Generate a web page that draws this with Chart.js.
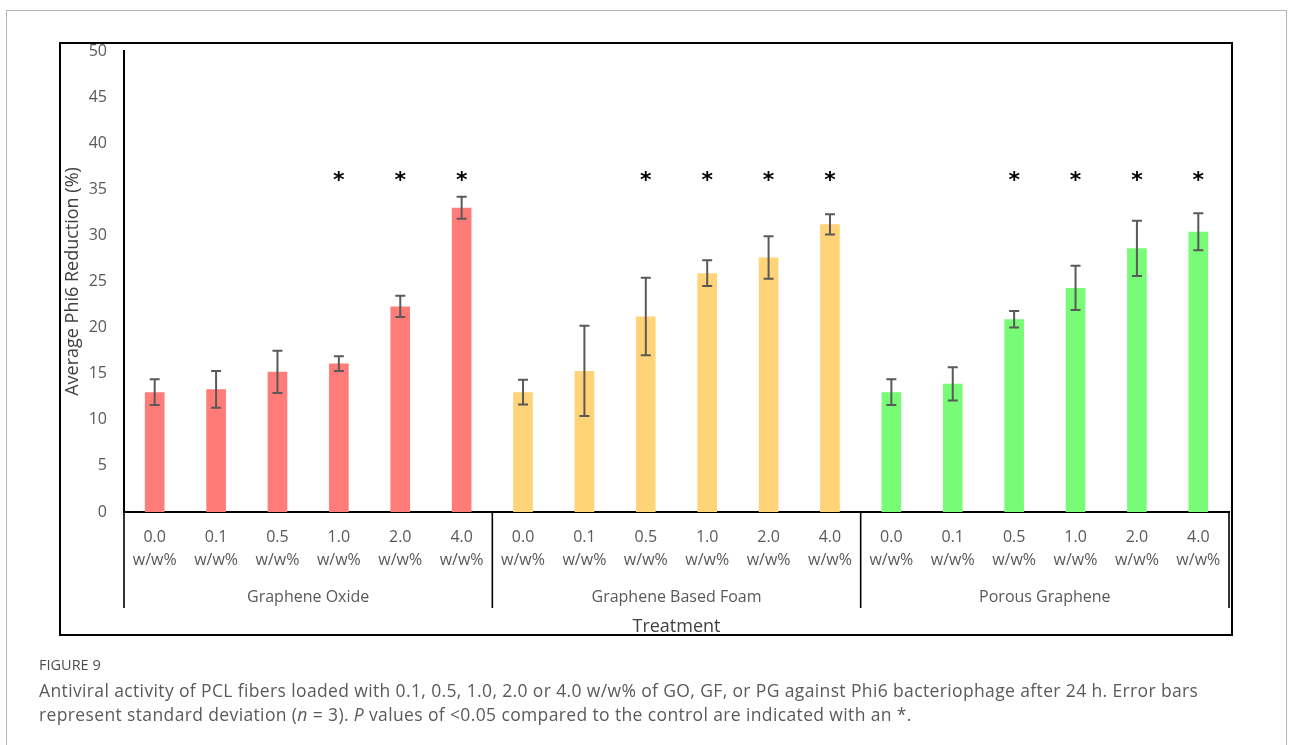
<!DOCTYPE html>
<html>
<head>
<meta charset="utf-8">
<script src="https://cdn.jsdelivr.net/npm/chart.js@4.4.1/dist/chart.umd.min.js"></script>
<style>
  body { margin: 0; background: #fff; }
  #page { position: relative; width: 1292px; height: 745px; overflow: hidden; font-family: 'Open Sans', sans-serif; }
  #outer { position: absolute; left: 6px; top: 10px; width: 1281px; height: 800px; border: 1px solid #b4b4b4; box-sizing: border-box; }
  #frame { position: absolute; left: 59px; top: 42px; width: 1174px; height: 594px; border: 2px solid #000; box-sizing: border-box; }
  #chart { position: absolute; left: 0; top: 0; }
  .fig { position: absolute; left: 39px; top: 655px; font-size: 14.5px; line-height: 20px; color: #4d4d4d; }
  .cap { position: absolute; left: 39px; font-size: 17.5px; letter-spacing: 0.37px; line-height: 22px; color: #5a5a5a; white-space: nowrap; }
</style>
</head>
<body>
<div id="page">
  <div id="outer"></div>
  <div id="frame"></div>
  <canvas id="chart" width="1292" height="745"></canvas>
  <div class="fig">FIGURE 9</div>
  <div class="cap" style="top:679px">Antiviral activity of PCL fibers loaded with 0.1, 0.5, 1.0, 2.0 or 4.0 w/w% of GO, GF, or PG against Phi6 bacteriophage after 24 h. Error bars</div>
  <div class="cap" style="top:703px">represent standard deviation (<i>n</i> = 3). <i>P</i> values of &lt;0.05 compared to the control are indicated with an *.</div>
</div>
<script>
document.addEventListener('DOMContentLoaded', function () {
    const doseLabels = [['0.0', 'w/w%'], ['0.1', 'w/w%'], ['0.5', 'w/w%'], ['1.0', 'w/w%'], ['2.0', 'w/w%'], ['4.0', 'w/w%']];
    const groups = ['Graphene Oxide', 'Graphene Based Foam', 'Porous Graphene'];
    const groupColors = ['#FF7C79', '#FFD478', '#78FC78'];

    const goMean = [13.0, 13.3, 15.2, 16.1, 22.3, 33.0];
    const goSd = [1.4, 2.0, 2.3, 0.8, 1.15, 1.2];
    const gfMean = [13.0, 15.3, 21.2, 25.9, 27.6, 31.2];
    const gfSd = [1.35, 4.9, 4.2, 1.4, 2.3, 1.1];
    const pgMean = [13.0, 13.9, 20.9, 24.3, 28.6, 30.4];
    const pgSd = [1.4, 1.8, 0.9, 2.4, 3.0, 2.0];

    const goSig = [false, false, false, true, true, true];
    const gfSig = [false, false, true, true, true, true];
    const pgSig = [false, false, true, true, true, true];
    const starLevel = 36.4;

    const means = [...goMean, ...gfMean, ...pgMean];
    const sds = [...goSd, ...gfSd, ...pgSd];
    const sig = [...goSig, ...gfSig, ...pgSig];
    const labels = groups.flatMap(() => doseLabels);
    const colors = groups.flatMap((g, i) => doseLabels.map(() => groupColors[i]));

    Chart.defaults.font.family = "'Open Sans', sans-serif";

    // error bars + significance stars, placed with the chart's own scales
    const errorBars = {
        id: 'errorBars',
        afterDatasetsDraw(chart) {
            const ctx = chart.ctx;
            const y = chart.scales.y;
            const meta = chart.getDatasetMeta(0);
            ctx.save();
            ctx.strokeStyle = '#595959';
            ctx.lineWidth = 2;
            meta.data.forEach((bar, i) => {
                const top = y.getPixelForValue(means[i] + sds[i]);
                const bot = y.getPixelForValue(means[i] - sds[i]);
                ctx.beginPath();
                ctx.moveTo(bar.x, top); ctx.lineTo(bar.x, bot);
                ctx.moveTo(bar.x - 5, top); ctx.lineTo(bar.x + 5, top);
                ctx.moveTo(bar.x - 5, bot); ctx.lineTo(bar.x + 5, bot);
                ctx.stroke();
            });
            ctx.fillStyle = '#000';
            ctx.font = "bold 22px 'DejaVu Sans'";
            ctx.textAlign = 'center';
            const m = ctx.measureText('*');
            const shift = (m.actualBoundingBoxAscent - m.actualBoundingBoxDescent) / 2;
            meta.data.forEach((bar, i) => {
                if (sig[i]) ctx.fillText('*', bar.x, y.getPixelForValue(starLevel) + shift);
            });
            ctx.restore();
        }
    };

    const groupDividers = {
        id: 'groupDividers',
        afterDraw(chart) {
            const ctx = chart.ctx;
            const { left, right, bottom } = chart.chartArea;
            const step = (right - left) / groups.length;
            ctx.save();
            ctx.strokeStyle = '#000';
            ctx.lineWidth = 1.6;
            for (let k = 0; k <= groups.length; k++) {
                const x = left + k * step;
                ctx.beginPath();
                ctx.moveTo(x, bottom);
                ctx.lineTo(x, bottom + 96);
                ctx.stroke();
            }
            ctx.restore();
        }
    };

    const ctx = document.getElementById('chart').getContext('2d');
    new Chart(ctx, {
        type: 'bar',
        data: {
            labels: labels,
            datasets: [{
                data: means,
                backgroundColor: colors,
                borderWidth: 0,
                categoryPercentage: 1,
                barPercentage: 0.32
            }]
        },
        options: {
            responsive: false,
            animation: false,
            devicePixelRatio: 1,
            layout: { padding: { left: 60, top: 51, right: 63, bottom: 103 } },
            plugins: { legend: { display: false }, tooltip: { enabled: false } },
            scales: {
                y: {
                    min: 0,
                    max: 50,
                    ticks: { stepSize: 5, color: '#595959', padding: 17, font: { size: 16 } },
                    grid: { display: false, drawTicks: false },
                    border: { display: true, color: '#000', width: 2 },
                    title: { display: true, text: 'Average Phi6 Reduction (%)', color: '#404040', font: { size: 18 }, padding: { top: 2, bottom: 0 } },
                    afterFit: function (s) { s.width = 64; }
                },
                x: {
                    offset: true,
                    ticks: { color: '#595959', padding: 13.5, font: { size: 16, lineHeight: 1.4375 }, maxRotation: 0, autoSkip: false },
                    grid: { display: false, drawTicks: false },
                    border: { display: true, color: '#000', width: 2 },
                    afterFit: function (s) { s.height = 70; }
                },
                x2: {
                    type: 'category',
                    labels: groups,
                    offset: true,
                    position: 'bottom',
                    weight: 1,
                    ticks: { color: '#595959', padding: 6, font: { size: 16 } },
                    grid: { display: false, drawTicks: false },
                    border: { display: false },
                    title: { display: true, text: 'Treatment', color: '#404040', font: { size: 18 }, padding: { top: 0, bottom: 4 } },
                    afterFit: function (s) { s.height = 60; }
                }
            }
        },
        plugins: [errorBars, groupDividers]
    });
});
</script>
</body>
</html>
